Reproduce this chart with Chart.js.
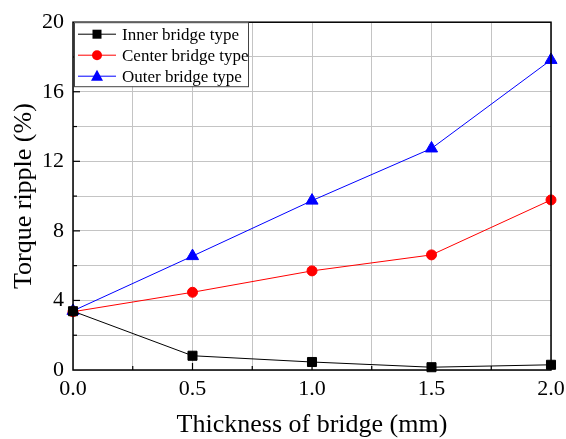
<!DOCTYPE html>
<html>
<head>
<meta charset="utf-8">
<script src="https://cdn.jsdelivr.net/npm/chart.js@4"></script>
<style>
  html, body { margin: 0; padding: 0; background: #fff; }
  #wrap { width: 566px; height: 439px; }
</style>
</head>
<body>
<div id="wrap"><canvas id="grafico"></canvas></div>
<script>
const espessura = [0, 0.5, 1.0, 1.5, 2.0];
const inner = [3.38, 0.82, 0.46, 0.16, 0.3];
const center = [3.35, 4.47, 5.7, 6.62, 9.78];
const outer = [3.4, 6.55, 9.74, 12.74, 17.83];
const xTicks = [0, 0.5, 1.0, 1.5, 2.0];
const yTicks = [0, 4, 8, 12, 16, 20];

const fonte = '"Liberation Serif", "Times New Roman", serif';

function pontos(vals) {
    return espessura.map((x, i) => ({ x: x, y: vals[i] }));
}

// moldura, ticks para dentro e legenda com caixa
const molduraPlugin = {
    id: 'moldura',
    afterDraw(chart) {
        const ctx = chart.ctx;
        const a = chart.chartArea;
        const sx = chart.scales.x, sy = chart.scales.y;
        ctx.save();
        ctx.strokeStyle = '#000';
        ctx.lineWidth = 1.5;
        ctx.strokeRect(a.left, a.top, a.right - a.left, a.bottom - a.top);

        ctx.lineWidth = 1.2;
        for (let v = 0.25; v < 2; v += 0.25) {
            const px = sx.getPixelForValue(v);
            const len = (Math.abs(v * 2 - Math.round(v * 2)) < 1e-6) ? 7 : 4;
            ctx.beginPath(); ctx.moveTo(px, a.bottom); ctx.lineTo(px, a.bottom - len); ctx.stroke();
        }
        for (let v = 2; v < 20; v += 2) {
            const py = sy.getPixelForValue(v);
            const len = (v % 4 === 0) ? 7 : 4;
            ctx.beginPath(); ctx.moveTo(a.left, py); ctx.lineTo(a.left + len, py); ctx.stroke();
        }

        // legenda
        const lx = a.left + 1, ly = a.top;
        ctx.fillStyle = '#fff';
        ctx.fillRect(lx, ly, 174, 64);
        ctx.strokeStyle = '#444';
        ctx.lineWidth = 1;
        ctx.strokeRect(lx + 0.5, ly + 0.5, 174, 64);
        ctx.font = '17px ' + fonte;
        ctx.textBaseline = 'middle';
        chart.data.datasets.forEach((ds, i) => {
            const yy = ly + 12 + i * 21;
            ctx.strokeStyle = ds.borderColor;
            ctx.lineWidth = 1;
            ctx.beginPath(); ctx.moveTo(lx + 4, yy); ctx.lineTo(lx + 42, yy); ctx.stroke();
            ctx.fillStyle = ds.pointBackgroundColor;
            const cx = lx + 23;
            if (ds.pointStyle === 'rect') {
                ctx.fillRect(cx - 4.5, yy - 4.5, 9, 9);
            } else if (ds.pointStyle === 'circle') {
                ctx.beginPath(); ctx.arc(cx, yy, 5, 0, Math.PI * 2); ctx.fill();
            } else {
                ctx.beginPath(); ctx.moveTo(cx, yy - 6.5); ctx.lineTo(cx + 6, yy + 4.5); ctx.lineTo(cx - 6, yy + 4.5); ctx.closePath(); ctx.fill();
            }
            ctx.fillStyle = '#000';
            ctx.fillText(ds.label, lx + 48, yy + 1);
        });
        ctx.restore();
    }
};

new Chart(document.getElementById('grafico').getContext('2d'), {
    type: 'scatter',
    data: {
        datasets: [{
            label: 'Inner bridge type',
            data: pontos(inner),
            showLine: true,
            borderColor: '#000',
            backgroundColor: '#000',
            pointBackgroundColor: '#000',
            pointStyle: 'rect',
            pointRadius: 6.4,
            borderWidth: 1
        }, {
            label: 'Center bridge type',
            data: pontos(center),
            showLine: true,
            borderColor: '#ff0000',
            backgroundColor: '#ff0000',
            pointBackgroundColor: '#ff0000',
            pointStyle: 'circle',
            pointRadius: 5,
            borderWidth: 1
        }, {
            label: 'Outer bridge type',
            data: pontos(outer),
            showLine: true,
            borderColor: '#0000ff',
            backgroundColor: '#0000ff',
            pointBackgroundColor: '#0000ff',
            pointStyle: 'triangle',
            pointRadius: 7,
            borderWidth: 1
        }]
    },
    options: {
        responsive: true,
        maintainAspectRatio: false,
        animation: false,
        clip: false,
        layout: { padding: { left: 0, right: 0, top: 19, bottom: 0 } },
        plugins: { legend: { display: false }, tooltip: { enabled: false } },
        scales: {
            x: {
                type: 'linear',
                min: 0, max: 2,
                afterBuildTicks(axis) {
                    const t = [];
                    for (let v = 0; v <= 2.0001; v += 0.25) t.push({ value: Math.round(v * 100) / 100 });
                    axis.ticks = t;
                },
                afterFit(axis) {
                    axis.height = 69;
                    axis.paddingLeft = 0;
                    axis.paddingRight = 15;
                },
                ticks: {
                    color: '#000',
                    padding: 6,
                    maxRotation: 0,
                    autoSkip: false,
                    font: { family: fonte, size: 22 },
                    callback: v => xTicks.some(t => Math.abs(t - v) < 1e-6) ? v.toFixed(1) : ''
                },
                grid: { color: '#c4c4c4', lineWidth: 1, drawTicks: false },
                border: { display: false },
                title: {
                    display: true,
                    text: 'Thickness of bridge (mm)',
                    color: '#000',
                    font: { family: fonte, size: 26, lineHeight: 1 },
                    padding: { top: 0, bottom: 1 }
                }
            },
            y: {
                min: 0, max: 20,
                afterBuildTicks(axis) {
                    const t = [];
                    for (let v = 0; v <= 20; v += 2) t.push({ value: v });
                    axis.ticks = t;
                },
                afterFit(axis) { axis.width = 73; },
                ticks: {
                    color: '#000',
                    padding: 9,
                    autoSkip: false,
                    font: { family: fonte, size: 22 },
                    callback: v => yTicks.includes(v) ? String(v) : ''
                },
                grid: { color: '#c4c4c4', lineWidth: 1, drawTicks: false },
                border: { display: false },
                title: {
                    display: true,
                    text: 'Torque ripple (%)',
                    color: '#000',
                    font: { family: fonte, size: 26, lineHeight: 1 },
                    padding: { top: 11, bottom: 0 }
                }
            }
        }
    },
    plugins: [molduraPlugin]
});
</script>
</body>
</html>
